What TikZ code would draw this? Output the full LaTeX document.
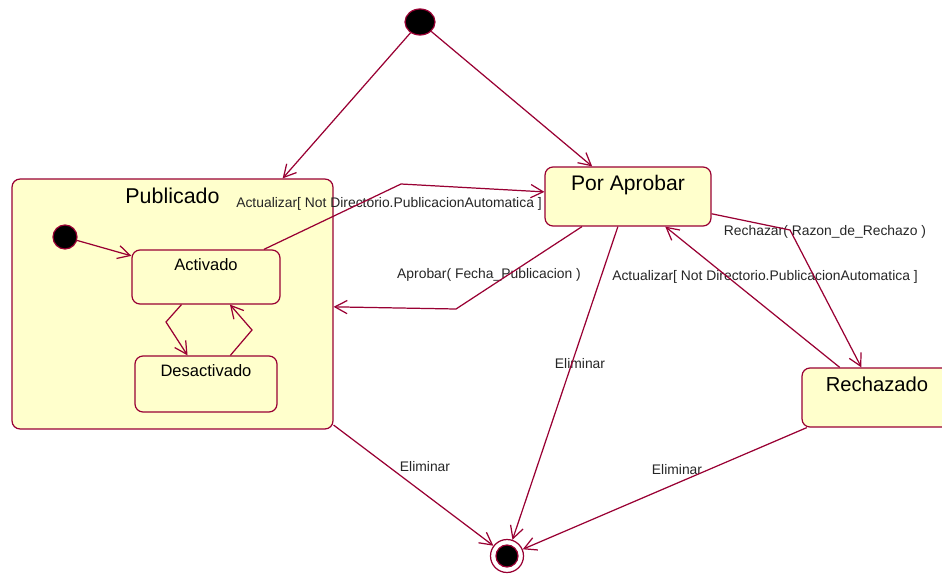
\documentclass[tikz,border=0pt]{standalone}
\usepackage{fontspec}
\setmainfont{Liberation Sans}
\usetikzlibrary{shapes,arrows.meta,positioning,calc}
\definecolor{umlred}{RGB}{153,0,51}
\definecolor{umlfill}{RGB}{255,255,204}

\begin{document}
\begin{tikzpicture}[x = 0.02cm, y = -0.02cm, > = {Straight Barb[length = 7pt, width = 7.5pt]}, font = \fontsize{7.9}{9}\selectfont]
    \tikzset{
      state/.style = {draw = umlred, fill = umlfill, rounded corners = 0.16cm, line width = 0.7pt, inner sep = 0},
      start/.style = {draw = umlred, fill = black, ellipse, line width = 0.7pt, inner sep = 0},
      heading/.style = {anchor = north, inner sep = 0, yshift = -5pt, font = \fontsize{11.5}{13}\selectfont},
      subheading/.style = {heading, font = \fontsize{9.4}{11}\selectfont},
      trans/.style = {->, draw = umlred, line width = 0.7pt},
      cond/.style = {text = black!85, inner sep = 0},
    }
    \useasboundingbox (0, 0) rectangle (942, 574);

    % states
    \node [state, minimum width = 6.42cm, minimum height = 5cm,
      label = {[heading, font = \fontsize{12.2}{14}\selectfont]north:Publicado}] (pub) at (172.5, 304) {};
    \node [start, minimum width = 0.48cm, minimum height = 0.48cm] (init2) at (65, 237) {};
    \node [state, minimum width = 2.96cm, minimum height = 1.08cm,
      label = {[subheading]north:Activado}] (act) at (206, 277) {};
    \node [state, minimum width = 2.84cm, minimum height = 1.12cm,
      label = {[subheading]north:Desactivado}] (desact) at (206, 384) {};
    \node [state, minimum width = 3.32cm, minimum height = 1.18cm,
      label = {[heading, font = \fontsize{12}{14}\selectfont]north:Por Aprobar}] (por) at (628, 196.5) {};
    \node [state, minimum width = 3cm, minimum height = 1.18cm,
      label = {[heading]north:Rechazado}] (rech) at (877, 397.5) {};

    \node [start, minimum width = 0.6cm, minimum height = 0.52cm] (init) at (420, 22) {};
    \node [circle, draw = umlred, fill = white, line width = 0.7pt, minimum size = 0.66cm, inner sep = 0] (fin) at (507, 556) {};
    \node [start, minimum width = 0.44cm, minimum height = 0.44cm] (fin0) at (fin) {};

    % guards
    \node [cond] (l-act) at (389, 204) {Actualizar[ Not Directorio.PublicacionAutomatica ]};
    \node [cond] (l-apr) at (489, 275) {Aprobar( Fecha\_Publicacion )};
    \node [cond] (l-rec) at (825, 232) {Rechazar( Razon\_de\_Rechazo )};
    \node [cond] (l-act2) at (765, 277) {Actualizar[ Not Directorio.PublicacionAutomatica ]};
    \node [cond] (l-el1) at (580, 364) {Eliminar};
    \node [cond] (l-el2) at (425, 467) {Eliminar};
    \node [cond] (l-el3) at (677, 470) {Eliminar};

    % bends
    \coordinate (b-act) at (401, 184);
    \coordinate (b-apr) at (456, 309);
    \coordinate (b-rec) at (790, 230);
    \coordinate (b-down) at (166, 322);
    \coordinate (b-up) at (252, 330);

    % transitions
    \draw [trans] (init) -- (pub);
    \draw [trans] (init) -- (por);
    \draw [trans] (init2) -- (act);
    \draw [trans] (act) -- (b-down) -- (desact);
    \draw [trans] (desact) -- (b-up) -- (act);
    \draw [trans] (act) -- (b-act) -- (por);
    \draw [trans] (por) -- (b-apr) -- (pub);
    \draw [trans] (por) -- (b-rec) -- (rech);
    \draw [trans] (rech) -- (por);
    \draw [trans] (por) -- (fin);
    \draw [trans] (pub) -- (fin);
    \draw [trans] (rech) -- (fin);
  \end{tikzpicture}
\end{document}
